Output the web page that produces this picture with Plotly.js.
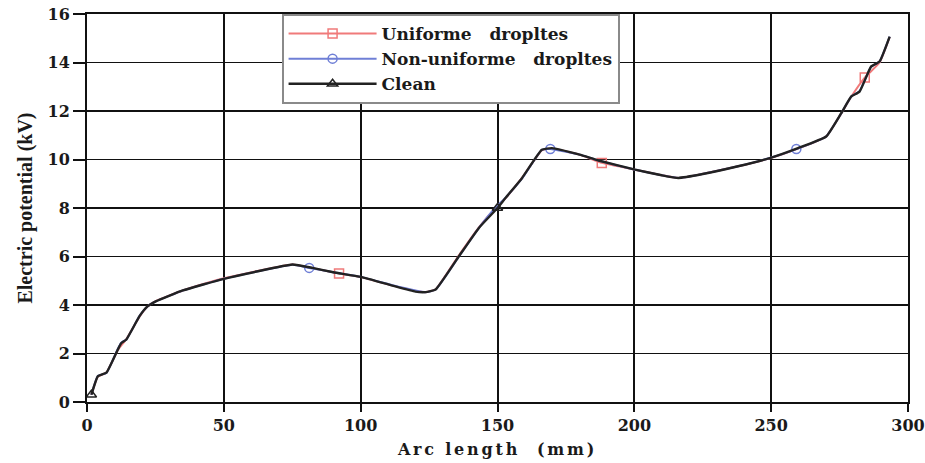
<!DOCTYPE html>
<html><head><meta charset="utf-8">
<script src="https://cdn.plot.ly/plotly-3.0.1.min.js"></script>
<style>
body{margin:0;background:#fff}#c{width:925px;height:463px}
#c .xtitle{letter-spacing:2.8px}
</style>
</head><body><div id="c"></div>
<script>
// ---- data ----
const uniformX = [1.6, 4.0, 7.1, 11.3, 14.4, 19.2, 22.2, 25.3, 35, 45, 50, 62, 75.1, 82.4, 92.1, 100.1, 111.6, 123.7, 127.4, 135.9, 143.2, 149.3, 152.9, 159, 166.2, 169.9, 180, 188.1, 200.3, 216.1, 237.9, 249.5, 259.8, 270.1, 275.6, 279.3, 284.2, 289.6, 293.3];
const uniformY = [0.3, 1.05, 1.22, 2.15, 2.6, 3.52, 3.95, 4.17, 4.6, 4.95, 5.1, 5.4, 5.67, 5.52, 5.3, 5.15, 4.8, 4.53, 4.65, 6.05, 7.2, 8.0, 8.4, 9.25, 10.38, 10.45, 10.2, 9.86, 9.58, 9.24, 9.72, 10.05, 10.45, 10.95, 11.9, 12.6, 13.38, 14.0, 15.05];
const uniformMarks = [14, 27, 36];

const nonUniformX = [1.6, 4.0, 7.1, 11.3, 12.5, 14.4, 19.2, 22.2, 25.3, 35, 50, 62, 75.1, 81.2, 90, 100.1, 111.6, 123.7, 127.4, 135.9, 143.2, 149.3, 152.9, 159, 166.2, 169.3, 180, 186.9, 200.3, 216.1, 237.9, 249.5, 259.2, 270.1, 275.6, 279.3, 282.3, 286.5, 289.6, 293.3];
const nonUniformY = [0.3, 1.08, 1.2, 2.2, 2.45, 2.58, 3.55, 3.95, 4.16, 4.6, 5.08, 5.38, 5.66, 5.53, 5.35, 5.16, 4.82, 4.53, 4.64, 6.0, 7.18, 8.02, 8.42, 9.22, 10.4, 10.43, 10.2, 9.96, 9.58, 9.24, 9.72, 10.06, 10.43, 10.95, 11.9, 12.6, 12.82, 13.82, 14.04, 15.07];
const nonUniformMarks = [13, 25, 32];

const cleanX = [1.6, 4.0, 7.1, 11.3, 12.5, 14.4, 19.2, 22.2, 25.3, 35, 50, 62, 75.1, 82.4, 90, 100.1, 111.6, 120, 123.7, 127.4, 135.9, 143.2, 150, 152.9, 159, 166.2, 169.9, 180, 186.9, 200.3, 210, 216.1, 225, 237.9, 249.5, 259.8, 270.1, 275.6, 279.3, 282.3, 286.5, 289.6, 293.3];
const cleanY = [0.3, 1.07, 1.21, 2.17, 2.42, 2.58, 3.54, 3.95, 4.16, 4.6, 5.08, 5.38, 5.67, 5.53, 5.35, 5.16, 4.80, 4.55, 4.53, 4.64, 6.01, 7.18, 8.0, 8.41, 9.24, 10.40, 10.47, 10.2, 9.96, 9.58, 9.35, 9.24, 9.4, 9.72, 10.06, 10.47, 10.95, 11.91, 12.6, 12.8, 13.83, 14.04, 15.07];
const cleanMarks = [0, 22];

const seriesNames = ["Uniforme\u00A0\u00A0\u00A0dropltes", "Non-uniforme\u00A0\u00A0\u00A0dropltes", "Clean"];
const xTickVals = [0, 50, 100, 150, 200, 250, 300];
const yTickVals = [0, 2, 4, 6, 8, 10, 12, 14, 16];
const xTitle = "Arc\u00A0length\u00A0\u00A0(mm)";
const yTitle = "Electric potential (kV)";

function trace(x, y, name, color, lw, symbol, marks){
  return {
    x: x, y: y, name: name, type: 'scatter', mode: 'lines+markers',
    line: {color: color, width: lw, shape: 'spline', smoothing: 0.4},
    marker: {symbol: symbol, size: 9, color: color, line: {color: color, width: 1.5}},
    selectedpoints: marks,
    selected: {marker: {opacity: 1}},
    unselected: {marker: {opacity: 0}},
    hoverinfo: 'x+y'
  };
}

const data = [
  trace(uniformX, uniformY, seriesNames[0], '#f07a7a', 2, 'square-open', uniformMarks),
  trace(nonUniformX, nonUniformY, seriesNames[1], '#6f7fd6', 2, 'circle-open', nonUniformMarks),
  trace(cleanX, cleanY, seriesNames[2], '#222222', 2.4, 'triangle-up-open', cleanMarks)
];

const tickFont = {family: 'DejaVu Serif', size: 16, color: '#1a1a1a', weight: 'bold'};
const layout = {
  width: 925, height: 463,
  margin: {l: 87, r: 17, t: 14, b: 61},
  paper_bgcolor: '#fff', plot_bgcolor: '#fff',
  showlegend: true,
  legend: {
    x: 0.237, y: 1, xanchor: 'left', yanchor: 'top',
    bgcolor: '#fff', bordercolor: '#8a8a8a', borderwidth: 2,
    font: {family: 'DejaVu Serif', size: 17, color: '#1a1a1a', weight: 'bold'},
    itemwidth: 88, tracegroupgap: 0
  },
  xaxis: {
    range: [0, 300], tickvals: xTickVals, ticks: 'outside', ticklen: 8, tickwidth: 2, tickcolor: '#111',
    ticklabeloverflow: 'allow',
    showgrid: true, gridcolor: '#111', gridwidth: 2,
    showline: true, linecolor: '#111', linewidth: 2, mirror: true, zeroline: false,
    tickfont: tickFont,
    title: {text: xTitle, font: {family: 'DejaVu Serif', size: 16, color: '#1a1a1a', weight: 'bold'}, standoff: 10}
  },
  yaxis: {
    range: [0, 16], tickvals: yTickVals, ticks: 'outside', ticklen: 12, tickwidth: 2, tickcolor: '#111',
    showgrid: true, gridcolor: '#111', gridwidth: 1.5,
    showline: true, linecolor: '#111', linewidth: 2, mirror: true, zeroline: false,
    tickfont: tickFont,
    title: {text: yTitle, font: {family: 'Liberation Serif', size: 20, color: '#1a1a1a', weight: 'bold'}, standoff: 10}
  }
};

Plotly.newPlot('c', data, layout, {staticPlot: true, displayModeBar: false});
</script>
</body></html>
